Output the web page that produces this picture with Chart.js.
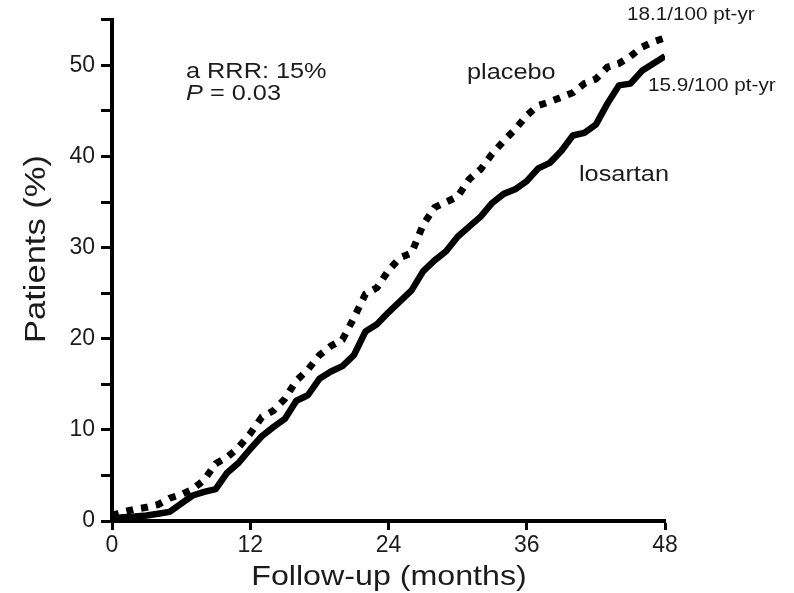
<!DOCTYPE html>
<html>
<head>
<meta charset="utf-8">
<script src="https://cdn.jsdelivr.net/npm/chart.js@4/dist/chart.umd.min.js"></script>
<style>
  html, body { margin: 0; padding: 0; background: #fff; }
  #wrap { width: 794px; height: 593px; }
</style>
</head>
<body>
<div id="wrap"><canvas id="c"></canvas></div>
<script>
// follow-up months and cumulative event rates (%)
const months   = [0,1,2,3,4,5,6,7,8,9,10,11,12,13,14,15,16,17,18,19,20,21,22,23,24,
                  25,26,27,28,29,30,31,32,33,34,35,36,37,38,39,40,41,42,43,44,45,46,47,48];
const losartan = [0.3,0.4,0.5,0.6,0.8,1.0,1.9,2.8,3.2,3.5,5.3,6.4,7.9,9.3,10.3,11.2,13.2,13.8,15.6,16.4,17.0,18.2,20.8,21.6,22.9,
                  24.1,25.3,27.4,28.6,29.6,31.2,32.3,33.4,34.9,35.9,36.4,37.3,38.7,39.3,40.6,42.3,42.6,43.5,45.8,47.8,48.0,49.4,50.2,51.0];
const placebo  = [0.6,1.0,1.3,1.5,1.8,2.5,2.9,3.5,4.5,6.3,7.0,8.1,9.6,11.4,12.1,13.4,15.4,16.6,18.2,19.2,19.9,22.3,24.9,25.6,27.5,
                  28.9,29.4,32.5,34.4,35.0,35.6,37.5,38.6,40.3,41.7,43.0,44.5,45.6,46.0,46.5,47.0,48.0,48.5,49.8,50.2,51.0,52.0,52.6,53.0];

const xTicks = [0, 12, 24, 36, 48];
const yTicks = [0, 5, 10, 15, 20, 25, 30, 35, 40, 45, 50, 55];
const yLabels = [0, 10, 20, 30, 40, 50];

const FONT = "'Liberation Sans', Arial, sans-serif";
const INK = '#1c1c1c';
const STRETCH = 1.15;   // the original lettering is a little wider than Arial

function toPoints(values)
{
    return values.map( (v, i) => ({ x: months[i], y: v }) );
}

// draw text with a horizontal stretch, x is the left edge (or centre when centred)
function wideText(ctx, text, x, y, font, centred)
{
    ctx.save();
    ctx.font = font;
    ctx.translate(x, y);
    ctx.scale(STRETCH, 1);
    ctx.textAlign = centred ? 'center' : 'left';
    ctx.fillText(text, 0, 0);
    let w = ctx.measureText(text).width * STRETCH;
    ctx.restore();
    return w;
}

const notes = {
    id: 'notes',
    afterDraw(chart)
    {
        const ctx = chart.ctx;
        ctx.save();
        ctx.fillStyle = INK;
        ctx.textBaseline = 'middle';

        wideText(ctx, 'a RRR: 15%', 186, 72, '22px ' + FONT);
        let w = wideText(ctx, 'P', 186, 94, 'italic 22px ' + FONT);
        wideText(ctx, ' = 0.03', 186 + w, 94, '22px ' + FONT);

        wideText(ctx, 'placebo', 467, 73, '22px ' + FONT);
        wideText(ctx, 'losartan', 579, 175, '22px ' + FONT);

        wideText(ctx, '18.1/100 pt-yr', 627, 15, '18px ' + FONT);
        wideText(ctx, '15.9/100 pt-yr', 648, 86, '18px ' + FONT);

        // x axis title
        wideText(ctx, 'Follow-up (months)', 389, 577, '28px ' + FONT, true);

        // y axis title
        ctx.translate(37, 249);
        ctx.rotate(-Math.PI / 2);
        wideText(ctx, 'Patients (%)', 0, 0, '30px ' + FONT, true);
        ctx.restore();
    }
};

new Chart(document.getElementById('c'),
{
    type: 'line',
    data: {
        datasets: [
            {
                label: 'placebo',
                data: toPoints(placebo),
                borderColor: '#000',
                borderWidth: 7,
                borderDash: [7, 8],
                borderCapStyle: 'butt',
                pointRadius: 0,
                tension: 0
            },
            {
                label: 'losartan',
                data: toPoints(losartan),
                borderColor: '#000',
                borderWidth: 6.5,
                borderJoinStyle: 'round',
                pointRadius: 0,
                tension: 0
            }
        ]
    },
    options: {
        responsive: true,
        maintainAspectRatio: false,
        animation: false,
        layout: { padding: { left: 0, right: 129, top: 14, bottom: 0 } },
        plugins: { legend: { display: false }, tooltip: { enabled: false } },
        scales: {
            x: {
                type: 'linear',
                min: 0,
                max: 48,
                afterBuildTicks: (s) => { s.ticks = xTicks.map( (v) => ({ value: v }) ); },
                afterFit: (s) => { s.height = 72; },
                grid: { drawOnChartArea: false, drawTicks: true, tickLength: 9, tickWidth: 3, color: '#000' },
                border: { display: true, width: 4, color: '#000' },
                ticks: { color: INK, padding: 2, maxRotation: 0, font: { family: FONT, size: 23 } }
            },
            y: {
                min: 0,
                max: 55,
                afterBuildTicks: (s) => { s.ticks = yTicks.map( (v) => ({ value: v }) ); },
                afterFit: (s) => { s.width = 112; },
                grid: { drawOnChartArea: false, drawTicks: true, tickLength: 11, tickWidth: 3, color: '#000' },
                border: { display: true, width: 4, color: '#000' },
                ticks: {
                    color: INK,
                    padding: 6,
                    font: { family: FONT, size: 23 },
                    callback: (v) => yLabels.includes(v) ? String(v) : ''
                }
            }
        }
    },
    plugins: [notes]
});
</script>
</body>
</html>
